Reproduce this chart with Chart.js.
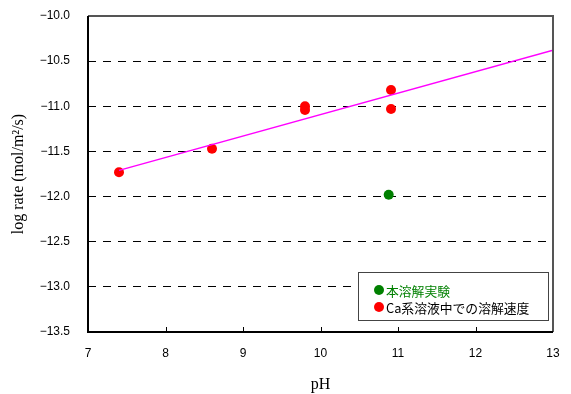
<!DOCTYPE html>
<html>
<head>
<meta charset="utf-8">
<script src="https://cdn.jsdelivr.net/npm/chart.js@4.4.1/dist/chart.umd.min.js"></script>
<style>
  html, body { margin: 0; padding: 0; background: #fff; }
  #wrap { width: 571px; height: 394px; }
</style>
</head>
<body>
<div id="wrap"><canvas id="grafico" width="571" height="394"></canvas></div>
<script>
// datos
const phRojo = [7.4, 8.6, 9.8, 9.8, 10.91, 10.91];
const tasaRojo = [-11.73, -11.47, -11.00, -11.04, -10.82, -11.03];
const phVerde = [10.88];
const tasaVerde = [-11.98];
const phAjuste = [7.4, 13];
const tasaAjuste = [-11.71, -10.38];
const etiquetas = ['本溶解実験', 'Ca系溶液中での溶解速度'];
const xTicks = [7, 8, 9, 10, 11, 12, 13];
const yTicks = [-10, -10.5, -11, -11.5, -12, -12.5, -13, -13.5];

function puntos(xs, ys) {
  return xs.map((x, i) => ({ x: x, y: ys[i] }));
}

const marco = {
  id: 'marco',
  afterDraw(chart) {
    const ctx = chart.ctx;
    const a = chart.chartArea;
    const sx = chart.scales.x;
    ctx.save();
    // borde gris arriba / derecha
    ctx.strokeStyle = '#555';
    ctx.lineWidth = 2;
    ctx.beginPath();
    ctx.moveTo(a.left, a.top);
    ctx.lineTo(a.right, a.top);
    ctx.lineTo(a.right, a.bottom);
    ctx.stroke();
    // ejes negros
    ctx.strokeStyle = '#000';
    ctx.beginPath();
    ctx.moveTo(a.left, a.top);
    ctx.lineTo(a.left, a.bottom);
    ctx.lineTo(a.right, a.bottom);
    ctx.stroke();
    // marcas del eje x hacia adentro
    ctx.lineWidth = 1;
    xTicks.slice(1, -1).forEach(v => {
      const px = Math.round(sx.getPixelForValue(v)) + 0.5;
      ctx.beginPath();
      ctx.moveTo(px, a.bottom);
      ctx.lineTo(px, a.bottom - 5);
      ctx.stroke();
    });

    // leyenda
    const lx = 358, ly = 272, lw = 190, lh = 48;
    ctx.fillStyle = '#fff';
    ctx.fillRect(lx, ly, lw, lh);
    ctx.strokeStyle = '#444';
    ctx.lineWidth = 1;
    ctx.strokeRect(lx + 0.5, ly + 0.5, lw, lh);
    const colores = ['#008000', '#ff0000'];
    const textos = ['#008000', '#000'];
    ctx.font = '12.8px "Noto Sans CJK JP", sans-serif';
    ctx.textBaseline = 'middle';
    etiquetas.forEach((t, i) => {
      const cy = 290 + i * 17;
      ctx.fillStyle = colores[i];
      ctx.beginPath();
      ctx.arc(379, cy, 5, 0, Math.PI * 2);
      ctx.fill();
      ctx.fillStyle = textos[i];
      ctx.fillText(t, 386, cy + 1);
    });
    ctx.restore();
  }
};

const barra = document.getElementById('grafico');

const grafico = new Chart(barra, {
  type: 'scatter',
  data: {
    datasets: [
      {
        label: 'ajuste',
        type: 'line',
        data: puntos(phAjuste, tasaAjuste),
        borderColor: '#ff00ff',
        borderWidth: 1.5,
        pointRadius: 0,
        fill: false
      },
      {
        label: etiquetas[1],
        data: puntos(phRojo, tasaRojo),
        backgroundColor: '#ff0000',
        borderColor: '#ff0000',
        pointRadius: 5,
        borderWidth: 0
      },
      {
        label: etiquetas[0],
        data: puntos(phVerde, tasaVerde),
        backgroundColor: '#008000',
        borderColor: '#008000',
        pointRadius: 5,
        borderWidth: 0
      }
    ]
  },
  options: {
    responsive: false,
    animation: false,
    maintainAspectRatio: false,
    layout: { padding: { top: 16, right: 18, left: 0, bottom: 0 } },
    plugins: {
      legend: { display: false },
      tooltip: { enabled: false }
    },
    scales: {
      x: {
        type: 'linear',
        min: 7,
        max: 13,
        afterBuildTicks: s => { s.ticks = xTicks.map(v => ({ value: v })); },
        afterFit: s => { s.height = 62; s.paddingLeft = 0; s.paddingRight = 0; },
        grid: { display: false, drawTicks: false },
        border: { display: false },
        ticks: {
          padding: 14,
          color: '#000',
          font: { family: '"Liberation Sans", sans-serif', size: 12 }
        },
        title: {
          display: true,
          text: 'pH',
          color: '#000',
          padding: { top: 7, bottom: 0 },
          font: { family: '"Liberation Serif", serif', size: 16 }
        }
      },
      y: {
        type: 'linear',
        min: -13.5,
        max: -10,
        afterBuildTicks: s => { s.ticks = yTicks.map(v => ({ value: v })); },
        afterFit: s => { s.width = 88; s.paddingTop = 0; s.paddingBottom = 0; },
        grid: {
          drawTicks: false,
          color: c => (c.tick.value === -10 || c.tick.value === -13.5) ? 'rgba(0,0,0,0)' : '#000',
          lineWidth: 1
        },
        border: { display: false, dash: [8, 7] },
        ticks: {
          padding: 18,
          color: '#000',
          font: { family: '"Liberation Sans", sans-serif', size: 12 },
          callback: v => '\u2212' + Math.abs(v).toFixed(1)
        },
        title: {
          display: true,
          text: 'log rate (mol/m\u00b2/s)',
          color: '#000',
          padding: { top: 9, bottom: 0 },
          font: { family: '"Liberation Serif", serif', size: 16 }
        }
      }
    }
  },
  plugins: [marco]
});
</script>
</body>
</html>
